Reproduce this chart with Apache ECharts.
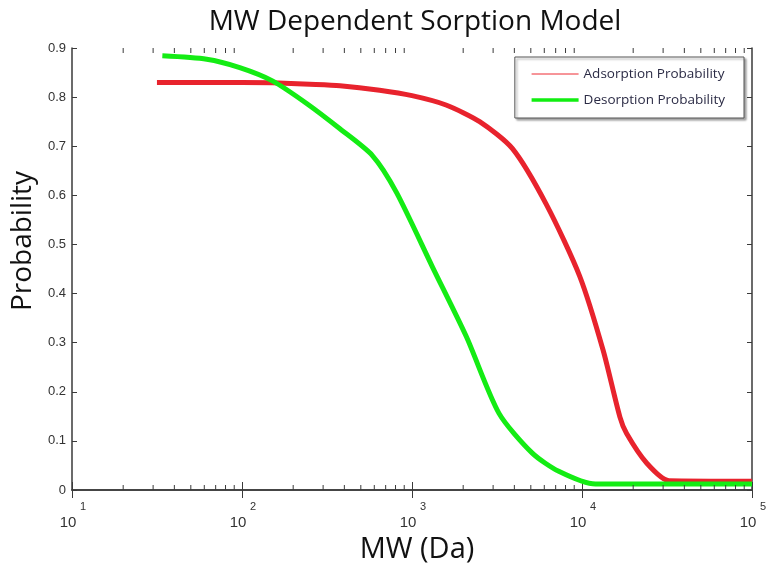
<!DOCTYPE html>
<html>
<head>
<meta charset="utf-8">
<script src="https://cdn.jsdelivr.net/npm/echarts@6/dist/echarts.min.js"></script>
<style>
html, body { margin: 0; padding: 0; background: #fff; }
#chart { width: 767px; height: 563px; }
</style>
</head>
<body>
<div id="chart"></div>
<script>
// values
var mwAds = [31.6, 60, 100, 151, 250, 377, 645, 1000, 1585, 2500, 3900, 6200, 9700, 13300, 16700, 18300, 24000, 32500, 100000];
var adsorption = [0.830, 0.830, 0.830, 0.829, 0.826, 0.823, 0.814, 0.803, 0.784, 0.750, 0.695, 0.580, 0.435, 0.285, 0.149, 0.115, 0.055, 0.019, 0.018];
var mwDes = [34, 62, 97, 151, 240, 375, 585, 810, 1320, 2090, 3250, 5100, 7300, 12000, 100000];
var desorption = [0.884, 0.877, 0.860, 0.833, 0.787, 0.736, 0.681, 0.606, 0.454, 0.312, 0.156, 0.075, 0.038, 0.012, 0.012];
var seriesNames = ['Adsorption Probability', 'Desorption Probability'];
var decades = [10, 100, 1000, 10000, 100000];
// log-axis minor ticks (2..9 in each decade)
var minorTicks = [];
decades.slice(0, 4).forEach(function (d) {
    for (var k = 2; k <= 9; k++) minorTicks.push(k * d);
});

var axisColor = '#3a3a3a';
var chart = echarts.init(document.getElementById('chart'));

var option = {
    backgroundColor: '#fff',
    animation: false,
    title: {
        text: 'MW Dependent Sorption Model',
        left: 410,
        textAlign: 'center',
        top: 3,
        textStyle: { fontFamily: 'Open Sans', fontSize: 28, fontWeight: 'normal', color: '#111' }
    },
    legend: {
        orient: 'vertical',
        right: 23,
        top: 57,
        padding: [10, 19, 11, 15],
        itemWidth: 47,
        itemHeight: 14,
        itemGap: 12,
        backgroundColor: '#fff',
        borderColor: '#555',
        borderWidth: 1,
        shadowColor: 'rgba(0,0,0,0.35)',
        shadowBlur: 2,
        shadowOffsetX: 2,
        shadowOffsetY: 2,
        textStyle: { fontFamily: 'Open Sans', fontSize: 13.5, color: '#2b2b45' },
        data: [
            { name: seriesNames[0], itemStyle: { opacity: 0, borderWidth: 0 }, lineStyle: { width: 1, color: '#ee2a33' } },
            { name: seriesNames[1], itemStyle: { opacity: 0, borderWidth: 0 }, lineStyle: { width: 3.5, color: '#11ee11' } }
        ]
    },
    grid: { left: 72, right: 15, top: 48, bottom: 73, outerBoundsMode: 'none' },
    xAxis: [
        {
            type: 'log',
            logBase: 10,
            min: 10,
            max: 100000,
            name: 'MW (Da)',
            nameLocation: 'middle',
            nameGap: 40,
            nameTextStyle: { fontFamily: 'Open Sans', fontSize: 29, color: '#111', padding: [0, 0, 0, 10] },
            axisLine: { show: true, lineStyle: { color: axisColor, width: 1.5 } },
            axisTick: { show: true, inside: true, length: 8, lineStyle: { color: axisColor } },
            splitLine: { show: false },
            axisLabel: {
                margin: 10,
                formatter: function (v) {
                    var e = Math.round(Math.log(v) / Math.LN10);
                    return '{e|' + e + '}\n{b|10}';
                },
                rich: {
                    e: { fontFamily: 'Liberation Sans', fontSize: 11, color: '#333', lineHeight: 13, padding: [0, 0, 0, 22] },
                    b: { fontFamily: 'Liberation Sans', fontSize: 15, color: '#333', lineHeight: 20, padding: [0, 8, 0, 0] }
                }
            }
        },
        {
            type: 'log',
            logBase: 10,
            min: 10,
            max: 100000,
            position: 'top',
            axisLine: { show: true, lineStyle: { color: axisColor, width: 1.5 } },
            axisTick: { show: true, inside: true, length: 8, lineStyle: { color: axisColor } },
            axisLabel: { show: false },
            splitLine: { show: false }
        }
    ],
    yAxis: [
        {
            type: 'value',
            min: 0,
            max: 0.9,
            interval: 0.1,
            name: 'Probability',
            nameLocation: 'middle',
            nameGap: 31,
            nameTextStyle: { fontFamily: 'Open Sans', fontSize: 28, color: '#111', padding: [0, 0, 0, 56] },
            axisLine: { show: true, lineStyle: { color: axisColor, width: 1.5 } },
            axisTick: { show: true, inside: true, length: 5, lineStyle: { color: axisColor } },
            splitLine: { show: false },
            axisLabel: { fontFamily: 'Liberation Sans', fontSize: 13, color: '#333', margin: 6 }
        },
        {
            type: 'value',
            min: 0,
            max: 0.9,
            interval: 0.1,
            position: 'right',
            axisLine: { show: true, lineStyle: { color: axisColor, width: 1.5 } },
            axisTick: { show: true, inside: true, length: 5, lineStyle: { color: axisColor } },
            axisLabel: { show: false },
            splitLine: { show: false }
        }
    ],
    series: [
        {
            name: seriesNames[0],
            type: 'line',
            symbol: 'none',
            smooth: 0.25,
            color: '#ee2a33',
            lineStyle: { width: 5, color: '#e8232d' },
            z: 3,
            data: mwAds.map(function (x, i) { return [x, adsorption[i]]; })
        },
        {
            name: seriesNames[1],
            type: 'line',
            symbol: 'none',
            smooth: 0.25,
            color: '#11ee11',
            lineStyle: { width: 5, color: '#14ec14' },
            z: 4,
            data: mwDes.map(function (x, i) { return [x, desorption[i]]; })
        },
        {
            type: 'custom',
            silent: true,
            clip: false,
            z: 5,
            renderItem: function (params, api) {
                var v = api.value(0);
                var b = api.coord([v, 0]);
                var t = api.coord([v, 0.9]);
                return {
                    type: 'group',
                    children: [
                        { type: 'line', shape: { x1: b[0], y1: b[1], x2: b[0], y2: b[1] - 5 }, style: { stroke: axisColor, lineWidth: 1 } },
                        { type: 'line', shape: { x1: t[0], y1: t[1], x2: t[0], y2: t[1] + 5 }, style: { stroke: axisColor, lineWidth: 1 } }
                    ]
                };
            },
            data: minorTicks.map(function (v) { return [v, 0]; })
        }
    ]
};

chart.setOption(option);
</script>
</body>
</html>
